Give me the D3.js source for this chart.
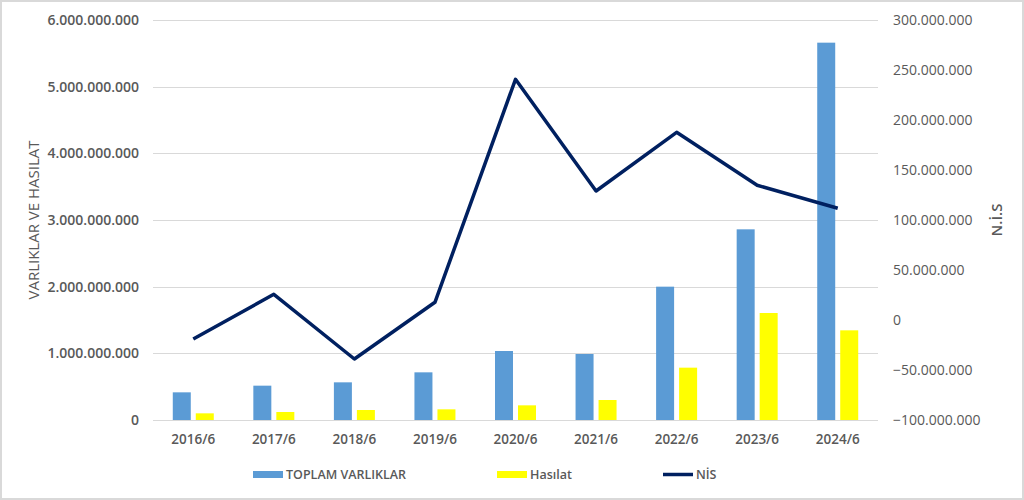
<!DOCTYPE html>
<html>
<head>
<meta charset="utf-8">
<script src="https://cdn.jsdelivr.net/npm/d3@7"></script>
<style>
  body { margin: 0; background: #fff; }
  svg text { font-family: "Open Sans", "Liberation Sans", sans-serif; fill: #595959; }
</style>
</head>
<body>
<div id="chart"></div>
<script>
// Daten
const years = ["2016/6", "2017/6", "2018/6", "2019/6", "2020/6", "2021/6", "2022/6", "2023/6", "2024/6"];
const toplamVarliklar = [415e6, 515e6, 565e6, 715e6, 1035e6, 990e6, 2000e6, 2860e6, 5660e6];
const hasilat = [100e6, 120e6, 150e6, 160e6, 220e6, 300e6, 785e6, 1605e6, 1345e6];
const nis = [-19e6, 25.7e6, -39e6, 17.7e6, 240.7e6, 129e6, 187.7e6, 134.7e6, 111.7e6];
const leftTicks = [0, 1e9, 2e9, 3e9, 4e9, 5e9, 6e9];
const rightTicks = [-100e6, -50e6, 0, 50e6, 100e6, 150e6, 200e6, 250e6, 300e6];

const width = 1024, height = 500;
const plot = {left: 153, right: 878, top: 20, bottom: 420};

const blue = "#5b9bd5", yellow = "#ffff00", navy = "#002060";

// Tausenderpunkte wie im Original
const fmt = v => d3.format(",")(v).replace(/,/g, ".");

const svg = d3.select("#chart").append("svg")
  .attr("width", width).attr("height", height);

svg.append("rect")
  .attr("x", 1).attr("y", 1).attr("width", width - 2).attr("height", height - 2)
  .attr("fill", "#fff").attr("stroke", "#d9d9d9").attr("stroke-width", 2);

const xScale = d3.scaleBand().domain(years).range([plot.left, plot.right]);
const yLeft = d3.scaleLinear().domain([0, 6e9]).range([plot.bottom, plot.top]);
const yRight = d3.scaleLinear().domain([-100e6, 300e6]).range([plot.bottom, plot.top]);

// Gitterlinien
svg.append("g").selectAll("line").data(leftTicks).join("line")
  .attr("x1", plot.left).attr("x2", plot.right)
  .attr("y1", d => Math.round(yLeft(d)) + 0.5).attr("y2", d => Math.round(yLeft(d)) + 0.5)
  .attr("stroke", "#d9d9d9").attr("stroke-width", 1);

// linke Achse
const leftAxis = d3.axisLeft(yLeft).tickValues(leftTicks).tickFormat(fmt).tickSize(0).tickPadding(14);
const gl = svg.append("g").attr("transform", `translate(${plot.left},0)`).call(leftAxis);
gl.select(".domain").remove();
gl.selectAll("text").attr("font-size", 14).attr("font-weight", 600)
  .style("font-family", "'Open Sans', sans-serif").attr("fill", "#595959");

// rechte Achse
const rightAxis = d3.axisRight(yRight).tickValues(rightTicks).tickFormat(fmt).tickSize(0).tickPadding(15);
const gr = svg.append("g").attr("transform", `translate(${plot.right},0)`).call(rightAxis);
gr.select(".domain").remove();
gr.selectAll("text").attr("font-size", 14).attr("fill", "#595959");

// x-Achse
const bottomAxis = d3.axisBottom(xScale).tickSize(0).tickPadding(14);
const gx = svg.append("g").attr("transform", `translate(0,${plot.bottom})`).call(bottomAxis);
gx.select(".domain").remove();
gx.selectAll("text").attr("font-size", 13.5).attr("font-weight", 600).attr("fill", "#595959");

// Balken
const barW = 18, gap = 5;
const cx = d => xScale(d) + xScale.bandwidth() / 2;
svg.append("g").selectAll("rect").data(years).join("rect")
  .attr("x", (d) => cx(d) - gap / 2 - barW)
  .attr("y", (d, i) => yLeft(toplamVarliklar[i]))
  .attr("width", barW)
  .attr("height", (d, i) => yLeft(0) - yLeft(toplamVarliklar[i]))
  .attr("fill", blue);

svg.append("g").selectAll("rect").data(years).join("rect")
  .attr("x", (d) => cx(d) + gap / 2)
  .attr("y", (d, i) => yLeft(hasilat[i]))
  .attr("width", barW)
  .attr("height", (d, i) => yLeft(0) - yLeft(hasilat[i]))
  .attr("fill", yellow);

// Linie NİS
const lineGenerator = d3.line()
  .x((d, i) => cx(years[i]))
  .y(d => yRight(d));
svg.append("path")
  .attr("d", lineGenerator(nis))
  .attr("fill", "none").attr("stroke", navy).attr("stroke-width", 3.5)
  .attr("stroke-linejoin", "round");

// Achsentitel
svg.append("text")
  .attr("transform", `translate(39,220) rotate(-90)`)
  .attr("text-anchor", "middle").attr("font-size", 15)
  .text("VARLIKLAR VE HASILAT");
svg.append("text")
  .attr("transform", `translate(1002,220) rotate(-90)`)
  .attr("text-anchor", "middle").attr("font-size", 15).attr("font-weight", 600)
  .text("N.İ.S");

// Legende
const legend = [
  {name: "TOPLAM VARLIKLAR", color: blue, type: "rect", x: 253},
  {name: "Hasılat", color: yellow, type: "rect", x: 497},
  {name: "NİS", color: navy, type: "line", x: 663}
];
const lg = svg.append("g");
legend.forEach(l => {
  if (l.type === "rect") {
    lg.append("rect").attr("x", l.x).attr("y", 471).attr("width", 30).attr("height", 7).attr("fill", l.color);
  } else {
    lg.append("line").attr("x1", l.x).attr("x2", l.x + 30).attr("y1", 474.5).attr("y2", 474.5)
      .attr("stroke", l.color).attr("stroke-width", 3.5);
  }
  lg.append("text").attr("x", l.x + 33).attr("y", 474.5).attr("dy", "0.35em")
    .attr("font-size", 12.5).attr("font-weight", 600).text(l.name);
});
</script>
</body>
</html>
